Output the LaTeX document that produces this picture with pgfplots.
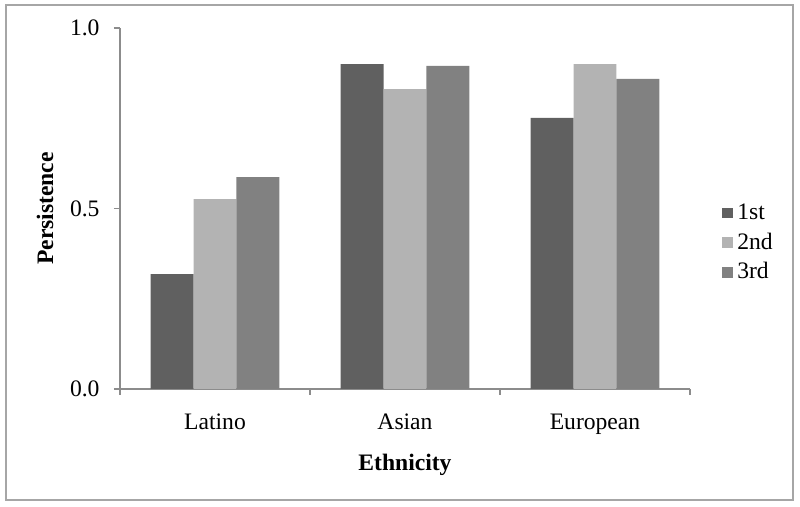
\documentclass[border=0pt]{standalone}
\usepackage{fontspec}
\setmainfont{Liberation Serif}
\usepackage{pgfplots}
\pgfplotsset{compat=1.18}
\definecolor{first}{HTML}{606060}
\definecolor{second}{HTML}{B3B3B3}
\definecolor{third}{HTML}{818181}
\definecolor{axisgray}{HTML}{8C8C8C}
\definecolor{framegray}{HTML}{A6A6A6}
\begin{document}
\begin{tikzpicture}
\path (-60pt,-59pt) rectangle (340pt,194.5pt);
\draw[framegray, line width=0.9pt] (-57pt,-55.5pt) rectangle (336.5pt,192pt);
\begin{axis}[
    at={(0pt,0pt)}, anchor=south west,
    scale only axis,
    width=285pt, height=180.5pt,
    ybar=0pt,
    bar width=0.226,
    xmin=-0.5, xmax=2.5,
    ymin=0, ymax=1,
    axis x line=bottom, axis y line=left,
    axis line style={-, axisgray, line width=0.6pt},
    every tick/.style={axisgray, line width=0.6pt},
    tick align=outside,
    major tick length=3pt,
    xtick={-0.5,0.5,1.5,2.5},
    xticklabels={,,,},
    extra x ticks={0,1,2},
    extra x tick labels={Latino,Asian,European},
    extra tick style={major tick length=0pt},
    xticklabel style={yshift=-9pt},
    ytick={0,0.5,1},
    yticklabel style={xshift=-3.7pt, /pgf/number format/fixed,
        /pgf/number format/fixed zerofill, /pgf/number format/precision=1,
        /pgf/number format/assume math mode=true},
    font=\fontsize{11.8}{13.5}\selectfont,
    xlabel={\textbf{Ethnicity}},
    ylabel={\textbf{Persistence}},
    xlabel style={at={(axis description cs:0.5,-0.21)}, anchor=center},
    ylabel style={at={(axis description cs:-0.1316,0.5)}, anchor=center},
    legend style={at={(1.056,0.405)}, anchor=west, draw=none, fill=none,
        inner sep=0pt, row sep=1.2pt, font=\fontsize{11.8}{13.5}\selectfont,
        /tikz/every even column/.append style={column sep=3.5pt}},
    legend cell align=left,
    legend image code/.code={\fill[#1,draw=none] (0pt,-2.7pt) rectangle (5.5pt,2.7pt);},
]
\addplot[fill=first, draw=none] coordinates {(0,0.318) (1,0.900) (2,0.751)};
\addplot[fill=second, draw=none] coordinates {(0,0.526) (1,0.831) (2,0.900)};
\addplot[fill=third, draw=none] coordinates {(0,0.587) (1,0.895) (2,0.859)};
\legend{1st,2nd,3rd}
\end{axis}
\end{tikzpicture}
\end{document}
